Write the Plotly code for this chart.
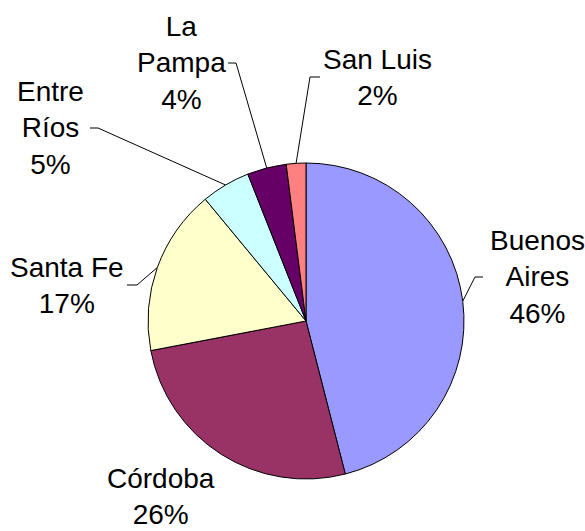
import math
import plotly.graph_objects as go

# ---- data ----
provinces = ["Buenos Aires", "Córdoba", "Santa Fe", "Entre Ríos", "La Pampa", "San Luis"]
label_text = ["Buenos<br>Aires", "Córdoba", "Santa Fe", "Entre<br>Ríos", "La<br>Pampa", "San Luis"]
shares = [46, 26, 17, 5, 4, 2]
colors = ["#9999FF", "#993366", "#FFFFCC", "#CCFFFF", "#660066", "#FF8080"]

# ---- layout constants (pixels) ----
W, H = 585, 531
CX, CY, R = 306, 321, 158
FONT = dict(family="Liberation Sans, Arial, sans-serif", size=28, color="black")

# label block centres and leader-line tick (text-side x, elbow x); None = no leader
label_pos = [(537, 277), (161, 496), (67, 285), (50, 128), (181, 63), (377, 77)]
ticks = [(483, 475), None, (127, 137), (90, 98), (228, 236), (320, 310)]

dom_x = [(CX - R) / W, (CX + R) / W]
dom_y = [(H - CY - R) / H, (H - CY + R) / H]

fig = go.Figure()
fig.add_trace(go.Pie(
    labels=provinces, values=shares, sort=False, direction="clockwise", rotation=0,
    marker=dict(colors=colors, line=dict(color="black", width=1)),
    textinfo="none", hoverinfo="label+percent", showlegend=False,
    domain=dict(x=dom_x, y=dom_y),
))

total = sum(shares)
cum = 0.0
for name, txt, v, (lx, ly), tk in zip(provinces, label_text, shares, label_pos, ticks):
    mid = (cum + v / 2) / total * 2 * math.pi
    cum += v
    pct = round(v / total * 100)
    fig.add_annotation(x=lx, y=ly, xref="x", yref="y", text=f"{txt}<br>{pct}%",
                       showarrow=False, font=FONT, align="center",
                       xanchor="center", yanchor="middle", borderpad=0, borderwidth=0)
    if tk is not None:
        ex = CX + R * math.sin(mid)
        ey = CY - R * math.cos(mid)
        fig.add_trace(go.Scatter(x=[ex, tk[1], tk[0]], y=[ey, ly, ly], mode="lines",
                                 line=dict(color="black", width=1), hoverinfo="skip",
                                 showlegend=False))

fig.update_layout(
    width=W, height=H, margin=dict(l=0, r=0, t=0, b=0),
    paper_bgcolor="white", plot_bgcolor="rgba(0,0,0,0)",
    xaxis=dict(range=[0, W], visible=False, fixedrange=True),
    yaxis=dict(range=[H, 0], visible=False, fixedrange=True),
    showlegend=False,
)
fig.write_html("out.html", config={"displayModeBar": False},
               post_script="document.body.style.margin='0';document.body.style.overflow='hidden';")
